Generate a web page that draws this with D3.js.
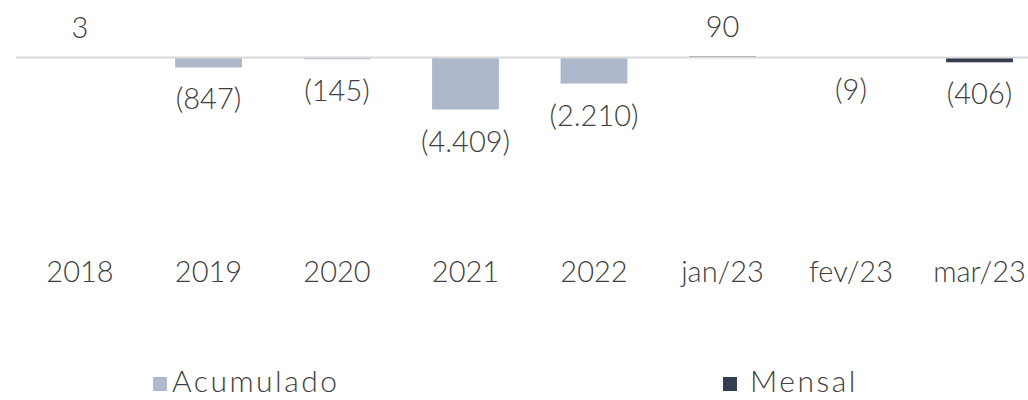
<!DOCTYPE html>
<html>
<head>
  <script src="https://d3js.org/d3.v7.min.js"></script>
  <style>
    body { margin: 0; background: #fff; }
    text { font-family: Lato, sans-serif; font-weight: 300; fill: #404040; }
    .value-label, .cat-label { font-size: 29px; text-anchor: middle; }
    .legend-label { font-size: 30px; letter-spacing: 2.5px; }
  </style>
</head>
<body>
  <div id="chart"></div>
  <script>
    // data
    const categories = ["2018", "2019", "2020", "2021", "2022", "jan/23", "fev/23", "mar/23"];
    const values = [3, -847, -145, -4409, -2210, 90, -9, -406];
    const seriesOf = ["Acumulado", "Acumulado", "Acumulado", "Acumulado", "Acumulado", "Mensal", "Mensal", "Mensal"];
    const seriesNames = ["Acumulado", "Mensal"];
    const seriesColors = ["#adb9ca", "#333f50"];

    const width = 1028, height = 400;

    const svg = d3.select("#chart")
      .append("svg")
        .attr("width", width)
        .attr("height", height);

    // plot area runs a little past the right edge of the picture
    const x = d3.scaleBand()
      .domain(categories)
      .range([15.75, 1043.75])
      .paddingInner(0.48)
      .paddingOuter(0.24);

    const y = d3.scaleLinear()
      .domain([-15000, 5000])
      .range([234.5, -1.5]);

    const color = d3.scaleOrdinal()
      .domain(seriesNames)
      .range(seriesColors);

    const fmt = d3.formatLocale({ decimal: ",", thousands: ".", grouping: [3], currency: ["", ""] }).format(",d");
    const labelText = v => v < 0 ? `(${fmt(-v)})` : fmt(v);

    const data = categories.map((c, i) => ({ cat: c, value: values[i], series: seriesOf[i] }));

    // bars
    svg.selectAll(".bar")
      .data(data)
      .enter()
      .append("rect")
        .attr("class", "bar")
        .attr("x", d => x(d.cat))
        .attr("y", d => y(Math.max(0, d.value)))
        .attr("width", x.bandwidth())
        .attr("height", d => Math.abs(y(d.value) - y(0)))
        .attr("fill", d => color(d.series));

    // zero line
    svg.append("line")
      .attr("x1", 16)
      .attr("x2", width)
      .attr("y1", y(0))
      .attr("y2", y(0))
      .attr("stroke", "#d9d9d9")
      .attr("stroke-width", 2);

    // value labels
    svg.selectAll(".value-label")
      .data(data)
      .enter()
      .append("text")
        .attr("class", "value-label")
        .attr("x", d => x(d.cat) + x.bandwidth() / 2)
        .attr("y", d => d.value >= 0 ? y(d.value) - 19 : y(d.value) + 42)
        .text(d => labelText(d.value));

    // category labels
    svg.selectAll(".cat-label")
      .data(categories)
      .enter()
      .append("text")
        .attr("class", "cat-label")
        .attr("x", d => x(d) + x.bandwidth() / 2)
        .attr("y", 282)
        .text(d => d);

    // legend
    const legendPos = [{ sx: 153, tx: 172 }, { sx: 723, tx: 750 }];
    const legend = svg.selectAll(".legend")
      .data(seriesNames)
      .enter()
      .append("g")
        .attr("class", "legend");

    legend.append("rect")
      .attr("x", (d, i) => legendPos[i].sx)
      .attr("y", 377)
      .attr("width", 14)
      .attr("height", 14)
      .attr("fill", d => color(d));

    legend.append("text")
      .attr("class", "legend-label")
      .attr("x", (d, i) => legendPos[i].tx)
      .attr("y", 392)
      .text(d => d);
  </script>
</body>
</html>
